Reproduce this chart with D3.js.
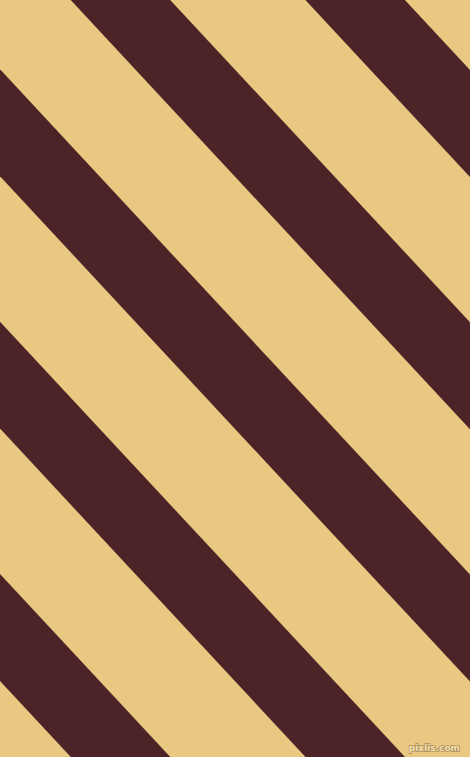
<!DOCTYPE html>
<html>
<head>
<meta charset="utf-8">
<script src="https://cdn.jsdelivr.net/npm/d3@7"></script>
<style>
  html, body { margin: 0; padding: 0; background: #eac882; }
  svg { display: block; }
</style>
</head>
<body>
<div id="chart"></div>
<script>
// stripe indices (one per dark band, counted from the band touching the top edge at left)
const stripes = [-3, -2, -1, 0, 1]
const watermark = ["pixlis.com"]

function drawStripes() {
    const width = 470
    const height = 757
    const bandWidth = 99.5      // horizontal width of one dark band
    const rise = 1.075          // dy/dx of the band edges

    const svg = d3.select("#chart").append("svg")
                  .attr("width", width)
                  .attr("height", height)
                  .attr("viewBox", [0, 0, width, height])

    // index -> x where the band's left edge meets the top
    const xScale = d3.scaleLinear()
                     .domain([0, 1])
                     .range([70.7, 305.4])
    const yScale = d3.scaleLinear()
                     .domain([0, height])
                     .range([0, height])

    svg.append("rect")
       .attr("width", width)
       .attr("height", height)
       .attr("fill", "#eac882")

    const shift = height / rise
    const line = d3.line()
                   .x(d => d[0])
                   .y(d => yScale(d[1]))

    svg.append("g")
       .selectAll("path")
       .data(stripes)
       .join("path")
       .attr("d", d => {
           const x0 = xScale(d)
           return line([[x0, 0], [x0 + bandWidth, 0], [x0 + bandWidth + shift, height], [x0 + shift, height]]) + "Z"
       })
       .attr("fill", "#4c2428")

    svg.append("g")
       .selectAll("text")
       .data(watermark)
       .join("text")
       .attr("x", 460)
       .attr("y", 751)
       .attr("text-anchor", "end")
       .attr("font-family", "DejaVu Sans, sans-serif")
       .attr("font-size", "9px")
       .attr("font-weight", "bold")
       .attr("fill", "#f4e0b0")
       .attr("stroke", "#a88a5a")
       .attr("stroke-width", 1.4)
       .attr("paint-order", "stroke")
       .text(d => d)
}

drawStripes()
</script>
</body>
</html>
